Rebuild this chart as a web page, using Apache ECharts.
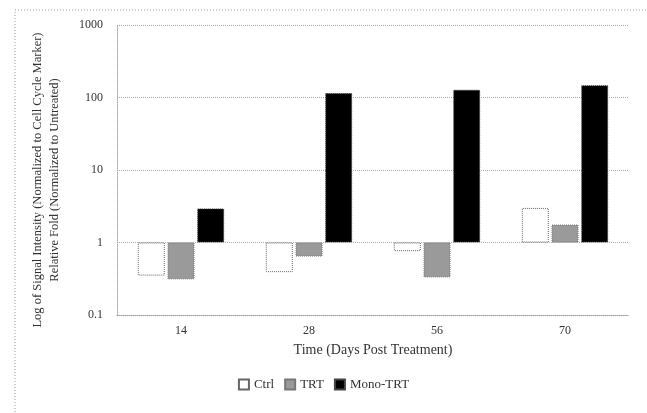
<!DOCTYPE html>
<html><head><meta charset="utf-8">
<script src="https://cdn.jsdelivr.net/npm/echarts@6/dist/echarts.min.js"></script>
<style>html,body{margin:0;padding:0;background:#fff}#c{width:647px;height:413px}</style>
</head><body><div id="c"></div>
<script>
const categories = ['14', '28', '56', '70'];
const ctrlValues = [0.35, 0.39, 0.76, 3.0];
const trtValues = [0.31, 0.64, 0.33, 1.77];
const monoValues = [2.95, 115, 128, 148];
const yTicks = [0.1, 1, 10, 100, 1000];
const seriesNames = ['Ctrl', 'TRT', 'Mono-TRT'];

const font = 'Liberation Serif';
const chart = echarts.init(document.getElementById('c'));
chart.setOption({
  animation: false,
  backgroundColor: '#fff',
  textStyle: { fontFamily: font, color: '#222' },
  graphic: [{
    type: 'rect', shape: { x: 15, y: 10, width: 700, height: 500 },
    style: { fill: 'none', stroke: '#999', lineWidth: 1, lineDash: [1, 2] }, silent: true
  }],
  grid: { left: 117, right: 18, top: 25, bottom: 98 },
  legend: {
    bottom: 17, left: 'center', itemWidth: 10, itemHeight: 10, itemGap: 10,
    textStyle: { fontFamily: font, fontSize: 13, color: '#333' },
    data: seriesNames.map(n => ({ name: n, icon: 'rect' }))
  },
  xAxis: {
    type: 'category', data: categories,
    name: 'Time (Days Post Treatment)', nameLocation: 'middle', nameGap: 28,
    nameTextStyle: { fontFamily: font, fontSize: 14, color: '#333' },
    axisLine: { lineStyle: { color: '#999', type: 'dotted' } },
    axisTick: { show: false },
    axisLabel: { fontSize: 12, color: '#333', margin: 10 }
  },
  yAxis: {
    type: 'log', logBase: 10, min: 0.1, max: 1000,
    name: 'Log of Signal Intensity (Normalized to Cell Cycle Marker)\nRelative Fold (Normalized to Untreated)',
    nameLocation: 'middle', nameGap: 54, nameRotate: 90,
    nameTextStyle: { fontFamily: font, fontSize: 12.5, color: '#333', lineHeight: 17, padding: [0, 20, 0, 0] },
    axisLine: { show: true, lineStyle: { color: '#aaa', type: 'dotted' } },
    axisTick: { show: false },
    axisLabel: { fontSize: 12, color: '#333', margin: 14,
      formatter: v => String(yTicks.find(t => Math.abs(Math.log10(t) - Math.log10(v)) < 1e-6) ?? v) },
    splitLine: { show: true, lineStyle: { color: '#aaa', type: 'dotted' } }
  },
  series: [
    { name: seriesNames[0], type: 'bar', data: ctrlValues, barWidth: 27, barGap: '10%',
      itemStyle: { color: '#fff', borderColor: '#666', borderWidth: 1, borderType: 'dotted' } },
    { name: seriesNames[1], type: 'bar', data: trtValues, barWidth: 27, barGap: '10%',
      itemStyle: { color: '#9a9a9a', borderColor: '#777', borderWidth: 1, borderType: 'dotted' } },
    { name: seriesNames[2], type: 'bar', data: monoValues, barWidth: 27, barGap: '10%',
      itemStyle: { color: '#000', borderColor: '#444', borderWidth: 1, borderType: 'dotted' } }
  ]
});
</script></body></html>
